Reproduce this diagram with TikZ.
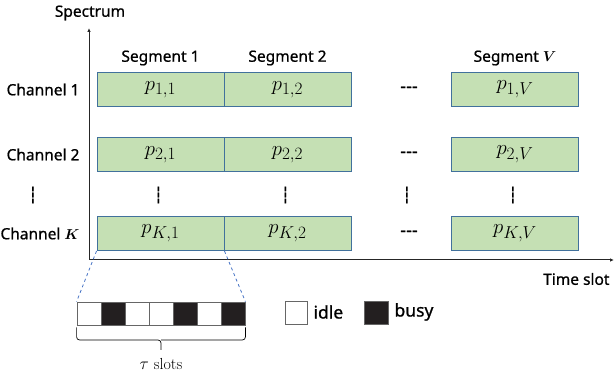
\documentclass[tikz,border=0pt]{standalone}
\usepackage{amsmath}
\usepackage{amssymb}
\usepackage{bm}
\usepackage{fontspec}
\setsansfont{Noto Sans}[FakeBold=0.8]
\renewcommand\defaultscriptratio{.76}
\usetikzlibrary{arrows.meta}
\definecolor{cellgreen}{HTML}{C5E0B4}
\definecolor{cellblue}{HTML}{41719C}
\definecolor{zoomblue}{HTML}{4472C4}
\definecolor{busyblack}{HTML}{231F20}

\begin{document}
\begin{tikzpicture}[x=1pt, y=-1pt,
    font=\sffamily\fontsize{15.5}{17}\selectfont,
    axis/.style={line width=1pt, black!85, -{Latex[length=4pt, width=3.5pt]}},
    cell/.style={draw=cellblue, fill=cellgreen, line width=0.9pt, minimum width=127pt,
        minimum height=34pt, inner sep=0pt, font=\fontsize{21.5}{22}\selectfont},
    slot/.style={draw=black!60, line width=0.8pt, minimum width=24pt, minimum height=23pt, inner sep=0pt},
    hdots/.style={font=\sffamily\bfseries\fontsize{18}{18}\selectfont},
    vdots/.style={rotate=90, font=\sffamily\bfseries\fontsize{19}{19}\selectfont},
    braceline/.style={line width=0.7pt, rounded corners=3pt}]
    \useasboundingbox (0,0) rectangle (616,379);
    % Draw the axes
    \coordinate (origin) at (89,260);
    \coordinate (ytip) at (89,28);
    \coordinate (xtip) at (614,260);
    \draw[axis] (origin) -- (ytip);
    \draw[axis] (origin) -- (xtip);
    \node (spectrum) at (90,13) {Spectrum};
    \node[anchor=east] (timeslot) at (613,279) {Time slot};
    % Segment titles
    \node (seg1) at (160.5,58) {Segment 1};
    \node (seg2) at (287.5,58) {Segment 2};
    \node (segV) at (515,58) {Segment $\bm{V}$};
    % Draw the channel rows
    \foreach \r/\y/\lab in {1/89.5/1, 2/154.5/2, K/233.5/$\bm{K}$}{
        \node[anchor=east] (ch\r) at (83,\y) {Channel \lab};
        \node[cell] (p\r1) at (160.5,\y) {$p_{\r,1}$};
        \node[cell] (p\r2) at (287.5,\y) {$p_{\r,2}$};
        \node[hdots] (hdots\r) at (409,\y) {-{}-{}-};
        \node[cell] (p\r V) at (515,\y) {$p_{\r,V}$};
    }
    % Vertical dots between rows
    \foreach \x in {35,160.5,287.5,409,515}{
        \node[vdots] (vdots\x) at (\x,195) {-{}-{}-};
    }
    % Draw the slots of one segment
    \foreach \i/\c in {0/white,1/busyblack,2/white,3/white,4/busyblack,5/white,6/busyblack}{
        \node[slot, fill=\c] (s\i) at (89+24*\i,313.5) {};
    }
    \draw[zoomblue, dashed, line width=0.8pt] (pK1.south west) -- (s0.north west);
    \draw[zoomblue, dashed, line width=0.8pt] (pK1.south east) -- (s6.north east);
    % Brace under the slots
    \coordinate (bl) at ([yshift=-2pt]s0.south west);
    \coordinate (br) at ([yshift=-2pt]s6.south east);
    \coordinate (btip) at (161,350);
    \draw[braceline] (bl) -- (bl |- 0,340) -- (161,340) -- (btip);
    \draw[braceline] (br) -- (br |- 0,340) -- (161,340);
    \node[font=\rmfamily\fontsize{16}{18}\selectfont] (tau) at (161,364) {$\tau$ slots};
    % Legend
    \node[slot, fill=white, minimum width=22pt] (idlebox) at (296,312.5) {};
    \node[anchor=west, font=\sffamily\fontsize{17.5}{19}\selectfont] (idle) at (310,312) {idle};
    \node[slot, fill=busyblack] (busybox) at (376,312.5) {};
    \node[anchor=west, font=\sffamily\fontsize{17.5}{19}\selectfont] (busy) at (391,312) {busy};
\end{tikzpicture}
\end{document}
